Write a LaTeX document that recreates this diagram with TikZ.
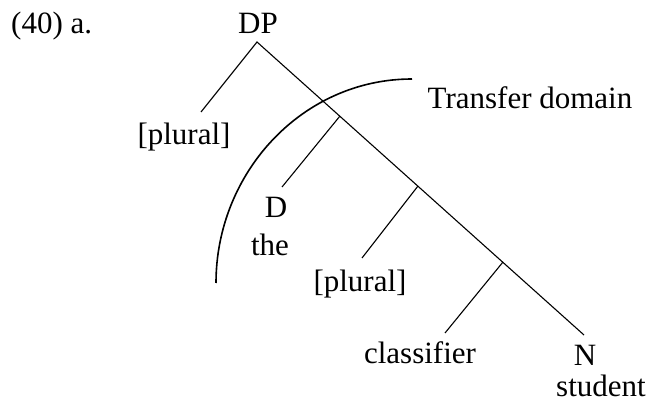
\documentclass[tikz,border=0pt]{standalone}
\usepackage{fontspec}
\setmainfont{Liberation Serif}
\usetikzlibrary{positioning}

\begin{document}
\begin{tikzpicture}[
  x=1pt,y=-1pt,
  font=\fontsize{31}{36}\selectfont,
  lbl/.style={inner sep=0pt,anchor=base},
  br/.style={line width=1.1pt},
  dom/.style={line width=1.6pt},
]
\useasboundingbox (0,0) rectangle (651,403);
% tree points
\coordinate (dp) at (257,42);
\coordinate (pl1) at (201,112);
\coordinate (b1) at (340,116);
\coordinate (d) at (282,187);
\coordinate (b2) at (418,186);
\coordinate (pl2) at (362,258);
\coordinate (b3) at (503,262);
\coordinate (cl) at (445,333);
\coordinate (n) at (584,335);
% labels
\node[lbl,anchor=base west] (ex) at (11,34) {(40) a.};
\node[lbl] (dplbl) at (258,34) {DP};
\node[lbl] (plural1) at (184,145) {[plural]};
\node[lbl] (tdom) at (530,109) {Transfer domain};
\node[lbl] (dlbl) at (276,218) {D};
\node[lbl] (the) at (270,256) {the};
\node[lbl] (plural2) at (360,292) {[plural]};
\node[lbl] (clf) at (420,364) {classifier};
\node[lbl] (nlbl) at (585,366) {N};
\node[lbl] (stu) at (601,397) {student};
% branches
\draw[br] (pl1)--(dp)--(n);
\draw[br] (b1)--(d);
\draw[br] (b2)--(pl2);
\draw[br] (b3)--(cl);
% transfer domain
\coordinate (arcs) at (216,283);
\coordinate (arce) at (412,79);
\draw[dom] (arcs) .. controls (216,173) and (302,79) .. (arce);
\end{tikzpicture}
\end{document}
